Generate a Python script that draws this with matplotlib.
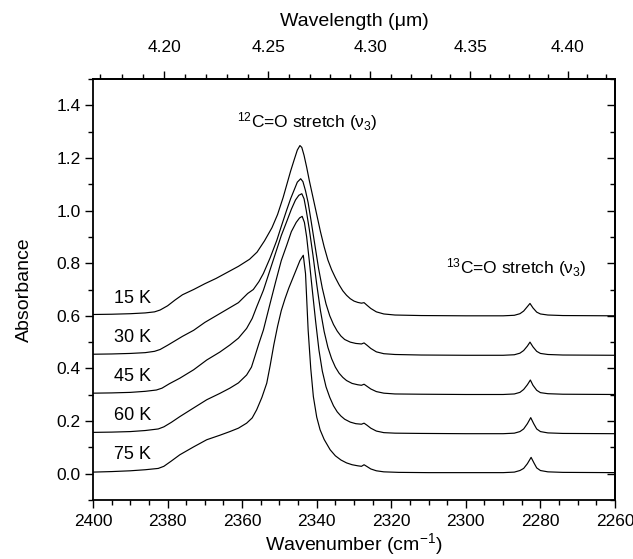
import matplotlib
matplotlib.use("Agg")
import matplotlib.pyplot as plt
from matplotlib.ticker import MultipleLocator, FixedLocator

plt.rcParams['font.family'] = ['Liberation Sans', 'DejaVu Sans']
plt.rcParams['mathtext.fontset'] = 'custom'
plt.rcParams['mathtext.rm'] = 'Liberation Sans'
plt.rcParams['mathtext.it'] = 'Liberation Sans:italic'

# ---- data ----
wn_15 = [2400, 2395, 2390, 2386, 2383.5, 2382, 2380, 2378, 2376, 2373, 2370, 2367, 2364, 2361, 2358,
         2356, 2354, 2352, 2350.5, 2349, 2348, 2347, 2346, 2345.2, 2344.5, 2344, 2343.4, 2342.7, 2342,
         2341, 2340, 2339, 2338, 2337, 2336, 2335, 2334, 2333, 2332, 2331, 2330, 2329, 2328, 2327.3,
         2326.5, 2325.5, 2324, 2322, 2319, 2312, 2300, 2290, 2287, 2285.5, 2284.5, 2283.5, 2282.8,
         2282, 2281, 2280, 2278, 2274, 2260]
a_15 = [0.605, 0.606, 0.608, 0.611, 0.615, 0.622, 0.638, 0.660, 0.680, 0.700, 0.722, 0.742, 0.765, 0.788, 0.815,
        0.842, 0.885, 0.935, 0.985, 1.050, 1.100, 1.150, 1.195, 1.230, 1.247, 1.240, 1.210, 1.165, 1.115,
        1.050, 0.985, 0.920, 0.862, 0.812, 0.775, 0.745, 0.718, 0.695, 0.678, 0.665, 0.656, 0.651, 0.648, 0.650,
        0.640, 0.628, 0.615, 0.607, 0.603, 0.601, 0.600, 0.600, 0.602, 0.608, 0.618, 0.635, 0.647,
        0.630, 0.614, 0.607, 0.603, 0.601, 0.600]

wn_30 = [2400, 2395, 2390, 2386, 2383.5, 2382, 2380, 2378, 2376, 2373, 2370, 2367, 2364, 2361, 2358.5,
         2357, 2355.5, 2354.3, 2352.5, 2350.7, 2349.5, 2348.1, 2347, 2346, 2345.2, 2344.3, 2343.7, 2343,
         2342.3, 2341.5, 2340.5, 2339.5, 2338.5, 2337.5, 2336.5, 2335.5, 2334.5, 2333.5, 2332.5, 2331,
         2329.5, 2328, 2327.3, 2326.5, 2325.5, 2324, 2322, 2319, 2312, 2300, 2290, 2287, 2285.5, 2284.5,
         2283.5, 2282.8, 2282, 2281, 2280, 2278, 2274, 2260]
a_30 = [0.454, 0.455, 0.457, 0.460, 0.465, 0.472, 0.488, 0.505, 0.522, 0.545, 0.575, 0.600, 0.625, 0.650, 0.685,
        0.700, 0.730, 0.761, 0.820, 0.887, 0.940, 1.000, 1.045, 1.080, 1.108, 1.121, 1.110, 1.075,
        1.030, 0.960, 0.870, 0.780, 0.705, 0.645, 0.600, 0.567, 0.542, 0.523, 0.510, 0.500,
        0.495, 0.493, 0.497, 0.488, 0.476, 0.463, 0.456, 0.453, 0.451, 0.450, 0.450, 0.452, 0.458, 0.468,
        0.485, 0.500, 0.482, 0.465, 0.457, 0.453, 0.451, 0.450]

wn_45 = [2400, 2395, 2390, 2386, 2383, 2381.5, 2379.5, 2376.7, 2373, 2369.5, 2366, 2363.3, 2361, 2358.8,
         2357.3, 2356.1, 2354.3, 2352.5, 2351, 2349.5, 2348, 2346.8, 2345.7, 2344.8, 2344.0, 2343.4,
         2342.8, 2342, 2341, 2340, 2339, 2338, 2337, 2336, 2335, 2334, 2333, 2332, 2330.5, 2329, 2328,
         2327.3, 2326.5, 2325.5, 2324, 2322, 2319, 2312, 2300, 2290, 2287, 2285.5, 2284.5, 2283.5,
         2282.7, 2282, 2281, 2280, 2278, 2274, 2260]
a_45 = [0.306, 0.307, 0.309, 0.313, 0.318, 0.325, 0.342, 0.363, 0.395, 0.432, 0.462, 0.489, 0.515, 0.552,
        0.590, 0.634, 0.697, 0.775, 0.840, 0.905, 0.960, 1.005, 1.040, 1.058, 1.064, 1.045,
        1.000, 0.930, 0.830, 0.720, 0.620, 0.540, 0.480, 0.437, 0.405, 0.382, 0.366, 0.354, 0.343, 0.338, 0.336,
        0.340, 0.332, 0.322, 0.312, 0.306, 0.303, 0.302, 0.301, 0.301, 0.303, 0.309, 0.320, 0.338,
        0.356, 0.336, 0.317, 0.308, 0.304, 0.302, 0.301]

wn_60 = [2400, 2395, 2390, 2386, 2382.5, 2381, 2379, 2376.7, 2373, 2369.5, 2366, 2363.3, 2361, 2358.8,
         2357.5, 2356.6, 2355.5, 2354.3, 2352.5, 2351, 2349.5, 2348, 2346.8, 2345.5, 2344.6, 2343.9, 2343.3,
         2342.7, 2342, 2341.2, 2340.3, 2339.4, 2338.5, 2337.5, 2336.5, 2335.5, 2334.5, 2333.5, 2332.5, 2331,
         2329.5, 2328, 2327.3, 2326.5, 2325.5, 2324, 2322, 2319, 2312, 2300, 2290, 2287, 2285.5, 2284.5,
         2283.5, 2282.6, 2281.8, 2281, 2280, 2278, 2274, 2260]
a_60 = [0.157, 0.158, 0.160, 0.164, 0.170, 0.178, 0.195, 0.217, 0.250, 0.281, 0.305, 0.325, 0.345, 0.375,
        0.405, 0.445, 0.495, 0.546, 0.647, 0.730, 0.810, 0.870, 0.920, 0.955, 0.972, 0.978, 0.955,
        0.900, 0.810, 0.700, 0.580, 0.470, 0.390, 0.330, 0.290, 0.258, 0.235, 0.219, 0.207, 0.196,
        0.190, 0.188, 0.192, 0.184, 0.173, 0.162, 0.156, 0.154, 0.153, 0.152, 0.152, 0.154, 0.160, 0.170,
        0.190, 0.213, 0.190, 0.170, 0.160, 0.155, 0.153, 0.152]

wn_75 = [2400, 2395, 2390, 2386, 2382.5, 2381, 2379, 2376.7, 2373, 2369.5, 2366, 2363.3, 2361, 2358.8,
         2357.3, 2356.1, 2354.7, 2353.4, 2352.5, 2351.5, 2350.5, 2349.5, 2348.5, 2347.5, 2346.5, 2345.5,
         2344.5, 2343.6, 2343, 2342.3, 2341.6, 2340.9, 2340, 2339.1, 2338, 2336.4, 2335, 2333.5, 2332,
         2330.5, 2329, 2328, 2327.3, 2326.5, 2325.5, 2324, 2322, 2318, 2310, 2300, 2290, 2287, 2285.5,
         2284.5, 2283.5, 2282.5, 2281.7, 2281, 2280, 2278, 2274, 2260]
a_75 = [0.006, 0.008, 0.011, 0.015, 0.020, 0.028, 0.048, 0.072, 0.102, 0.129, 0.146, 0.160, 0.173, 0.192,
        0.212, 0.243, 0.290, 0.344, 0.410, 0.490, 0.560, 0.620, 0.665, 0.705, 0.740, 0.775,
        0.810, 0.830, 0.760, 0.546, 0.400, 0.293, 0.215, 0.167, 0.130, 0.091, 0.068, 0.052, 0.041,
        0.034, 0.030, 0.028, 0.034, 0.027, 0.018, 0.011, 0.007, 0.005, 0.004, 0.004, 0.004, 0.006, 0.012,
        0.020, 0.038, 0.062, 0.040, 0.022, 0.012, 0.007, 0.005, 0.004]

temps = ['15 K', '30 K', '45 K', '60 K', '75 K']
label_y = [0.667, 0.516, 0.368, 0.220, 0.072]
label_x = 2389.5

wl_major = [4.20, 4.25, 4.30, 4.35, 4.40]
wl_minor = [4.17, 4.18, 4.19, 4.21, 4.22, 4.23, 4.24, 4.26, 4.27, 4.28, 4.29, 4.31, 4.32,
            4.33, 4.34, 4.36, 4.37, 4.38, 4.39, 4.41, 4.42]

curves = [(wn_15, a_15), (wn_30, a_30), (wn_45, a_45), (wn_60, a_60), (wn_75, a_75)]

fig = plt.figure(figsize=(6.33, 5.59), dpi=100)
ax = fig.add_axes([93/633, 1 - 500/559, (615-93)/633, (500-79)/559])

for (w, a), t, ly in zip(curves, temps, label_y):
    ax.plot(w, a, color='black', lw=0.85)
    ax.text(label_x, ly, t, ha='center', va='center', fontsize=13)

ax.set_xlim(2400, 2260)
ax.set_ylim(-0.1, 1.5)
ax.xaxis.set_major_locator(MultipleLocator(20))
ax.xaxis.set_minor_locator(MultipleLocator(5))
ax.yaxis.set_major_locator(MultipleLocator(0.2))
ax.yaxis.set_minor_locator(MultipleLocator(0.1))
ax.yaxis.set_major_formatter(plt.FuncFormatter(lambda v, p: f'{v:.1f}'))

ax.tick_params(axis='x', which='both', direction='out', top=False, bottom=True, labelsize=12.5, width=1, pad=4)
ax.tick_params(axis='y', which='both', direction='out', left=True, right=False, labelsize=12.5, width=1, pad=3)
ax.tick_params(which='major', length=6)
ax.tick_params(which='minor', length=3.5)
for s in ax.spines.values():
    s.set_linewidth(1.3)

# right-side inward ticks
ax_r = ax.secondary_yaxis('right')
ax_r.yaxis.set_major_locator(MultipleLocator(0.2))
ax_r.yaxis.set_minor_locator(MultipleLocator(0.1))
ax_r.tick_params(which='both', direction='in', labelright=False, width=1)
ax_r.tick_params(which='major', length=6)
ax_r.tick_params(which='minor', length=3.5)
ax_r.spines['right'].set_linewidth(1.3)

# top wavelength axis
ax_t = ax.secondary_xaxis('top', functions=(lambda x: 1e4 / x, lambda x: 1e4 / x))
ax_t.xaxis.set_major_locator(FixedLocator(wl_major))
ax_t.xaxis.set_minor_locator(FixedLocator(wl_minor))
ax_t.xaxis.set_major_formatter(plt.FuncFormatter(lambda v, p: f'{v:.2f}'))
ax_t.tick_params(which='both', direction='out', labelsize=12.5, width=1, pad=11)
ax_t.tick_params(which='major', length=6)
ax_t.tick_params(which='minor', length=3.5)
ax_t.spines['top'].set_linewidth(1.3)

fig.text(354/633, 1 - 22/559, 'Wavelength (\u03bcm)', ha='center', va='center', fontsize=14)
ax.set_xlabel('Wavenumber (cm$^{-1}$)', fontsize=14)
ax.xaxis.set_label_coords(0.5, -0.074)
ax.set_ylabel('Absorbance', fontsize=14)
ax.yaxis.set_label_coords(-0.115, 0.5)

ax.text(2342.6, 1.34, '$^{12}$C=O stretch (\u03bd$_3$)', ha='center', va='center', fontsize=12.5)
ax.text(2286.4, 0.782, '$^{13}$C=O stretch (\u03bd$_3$)', ha='center', va='center', fontsize=12.5)

fig.savefig('out.png', dpi=100)
